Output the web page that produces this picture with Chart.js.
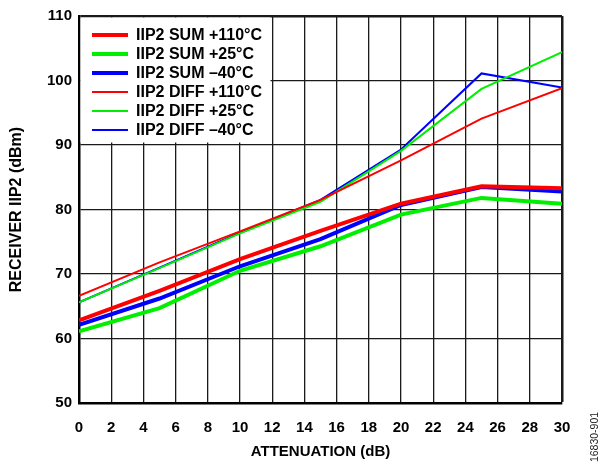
<!DOCTYPE html>
<html>
<head>
<meta charset="utf-8">
<script src="https://cdn.jsdelivr.net/npm/chart.js@4/dist/chart.umd.min.js"></script>
<style>
  html, body { margin: 0; padding: 0; background: #fff; }
  #wrap { width: 600px; height: 464px; position: relative; }
</style>
</head>
<body>
<div id="wrap"><canvas id="chart"></canvas></div>
<script>
// attenuation points (dB)
const attenuation = [0, 5, 10, 15, 20, 25, 30];

// receiver IIP2 (dBm)
const sum110 = [62.8, 67.4, 72.3, 76.7, 80.9, 83.6, 83.3];
const sum25 = [61.1, 64.7, 70.5, 74.3, 79.2, 81.8, 80.9];
const sumM40 = [62.1, 66.2, 71.2, 75.4, 80.7, 83.5, 82.8];
const diff110 = [66.6, 71.8, 76.6, 81.5, 87.6, 94.1, 98.8];
const diff25 = [65.6, 70.9, 76.3, 81.2, 89.1, 98.7, 104.4];
const diffM40 = [65.6, 71.0, 76.4, 81.5, 89.3, 101.1, 98.9];

const xTicks = [0, 2, 4, 6, 8, 10, 12, 14, 16, 18, 20, 22, 24, 26, 28, 30];
const yTicks = [50, 60, 70, 80, 90, 100, 110];

const RED = '#ff0000', GREEN = '#00ee00', BLUE = '#0000ff';
const FONT = '"Liberation Sans", Arial, sans-serif';

function series(label, values, color, width) {
  return {
    label: label,
    data: attenuation.map((x, i) => ({ x: x, y: values[i] })),
    borderColor: color,
    backgroundColor: color,
    borderWidth: width,
    pointRadius: 0,
    tension: 0,
    fill: false
  };
}

// legend drawn inside the plot, top left, on a white box
const insideLegend = {
  id: 'insideLegend',
  beforeDatasetsDraw(chart) {
    const ctx = chart.ctx;
    const a = chart.chartArea;
    ctx.save();
    ctx.fillStyle = '#fff';
    ctx.fillRect(a.left + 1.5, a.top + 1.5, 190, 125);
    ctx.restore();
  },
  afterDatasetsDraw(chart) {
    const ctx = chart.ctx;
    const a = chart.chartArea;
    ctx.save();
    ctx.font = 'bold 16px ' + FONT;
    ctx.textBaseline = 'middle';
    ctx.fillStyle = '#000';
    chart.data.datasets.forEach((ds, i) => {
      const y = a.top + 19 + i * 19;
      ctx.strokeStyle = ds.borderColor;
      ctx.lineWidth = ds.borderWidth;
      ctx.beginPath();
      ctx.moveTo(a.left + 13, y);
      ctx.lineTo(a.left + 49, y);
      ctx.stroke();
      ctx.fillText(ds.label, a.left + 57, y + 1);
    });
    // figure number at the right edge
    ctx.translate(595, 437);
    ctx.rotate(-Math.PI / 2);
    ctx.font = '10.5px ' + FONT;
    ctx.textAlign = 'center';
    ctx.textBaseline = 'middle';
    ctx.fillStyle = '#222';
    ctx.fillText('16830-901', 0, 0);
    ctx.restore();
  }
};

new Chart(document.getElementById('chart'), {
  type: 'line',
  data: {
    datasets: [
      series('IIP2 SUM +110°C', sum110, RED, 4),
      series('IIP2 SUM +25°C', sum25, GREEN, 4),
      series('IIP2 SUM –40°C', sumM40, BLUE, 4),
      series('IIP2 DIFF +110°C', diff110, RED, 2),
      series('IIP2 DIFF +25°C', diff25, GREEN, 2),
      series('IIP2 DIFF –40°C', diffM40, BLUE, 2)
    ]
  },
  options: {
    responsive: true,
    maintainAspectRatio: false,
    animation: false,
    layout: { padding: { left: 0, right: 38, top: 14, bottom: 0 } },
    plugins: { legend: { display: false }, tooltip: { enabled: false } },
    scales: {
      x: {
        type: 'linear',
        min: 0, max: 30,
        afterBuildTicks: s => { s.ticks = xTicks.map(v => ({ value: v })); },
        afterFit: s => { s.height = 61; },
        grid: {
          color: '#1a1a1a',
          lineWidth: c => (c.tick && c.tick.value === 30 ? 2.5 : 1.3),
          drawTicks: false
        },
        border: { display: true, color: '#000', width: 2.5 },
        ticks: {
          color: '#000',
          padding: 16,
          maxRotation: 0,
          autoSkip: false,
          font: { family: FONT, size: 15, weight: 'bold' }
        },
        title: {
          display: true,
          text: 'ATTENUATION (dB)',
          color: '#000',
          font: { family: FONT, size: 15, weight: 'bold' },
          padding: { top: 0, bottom: 3 }
        }
      },
      y: {
        min: 50, max: 110,
        afterBuildTicks: s => { s.ticks = yTicks.map(v => ({ value: v })); },
        afterFit: s => { s.width = 79; },
        grid: {
          color: '#1a1a1a',
          lineWidth: c => (c.tick && c.tick.value === 110 ? 2.5 : 1.3),
          drawTicks: false
        },
        border: { display: true, color: '#000', width: 2.5 },
        ticks: {
          color: '#000',
          padding: 7,
          font: { family: FONT, size: 15, weight: 'bold' }
        },
        title: {
          display: true,
          text: 'RECEIVER IIP2 (dBm)',
          color: '#000',
          font: { family: FONT, size: 16, weight: 'bold' },
          padding: { top: 7, bottom: 0 }
        }
      }
    }
  },
  plugins: [insideLegend]
});
</script>
</body>
</html>
